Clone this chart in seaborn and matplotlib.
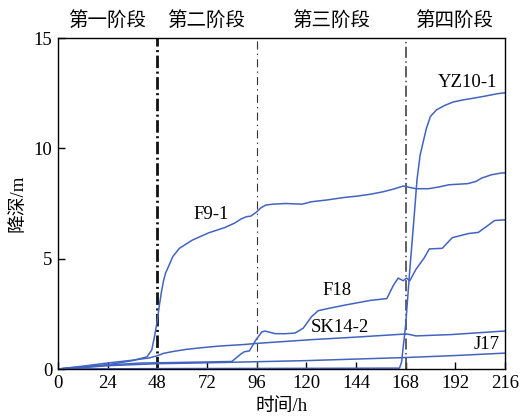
import matplotlib
matplotlib.use("Agg")
import matplotlib.pyplot as plt
import seaborn as sns
import pandas as pd

# ---- data ----
t_f91 = [0, 12, 24, 36, 43, 45.3, 46.9, 48, 49, 50, 51, 52, 53.2, 55.5, 58.7, 64.9, 72.8, 80.6,
         85.3, 88.5, 91, 93.2, 96, 98, 100.4, 104, 110, 118, 122.5, 130, 138, 145, 151, 157, 162,
         166.8, 168.4, 173, 179, 184, 189, 198, 202, 204.7, 209.4, 214, 216]
v_f91 = [0, 0.1, 0.19, 0.38, 0.55, 0.86, 1.6, 2.2, 2.9, 3.5, 4.0, 4.35, 4.6, 5.1, 5.47, 5.84, 6.17, 6.41,
         6.61, 6.8, 6.9, 6.93, 7.12, 7.3, 7.43, 7.47, 7.5, 7.47, 7.58, 7.66, 7.77, 7.84, 7.92, 8.03, 8.15,
         8.29, 8.26, 8.17, 8.17, 8.25, 8.35, 8.4, 8.5, 8.65, 8.8, 8.88, 8.89]

t_f18 = [0, 12, 24, 40, 60, 84, 88, 90, 92.5, 95.7, 98.5, 100, 105, 110, 114.6, 118.5, 122.5, 125.7,
         130.4, 138.3, 151, 158.9, 162, 164.4, 166.8, 168.4, 170, 173, 177, 179.4, 185.7, 190.5,
         198.4, 203.1, 207.8, 211, 216]
v_f18 = [0, 0.08, 0.18, 0.27, 0.3, 0.34, 0.65, 0.78, 0.82, 1.33, 1.68, 1.72, 1.6, 1.6, 1.63, 1.85, 2.37, 2.64,
         2.74, 2.89, 3.11, 3.19, 3.78, 4.12, 4.0, 4.12, 4.0, 4.52, 5.04, 5.44, 5.47, 5.95,
         6.14, 6.19, 6.51, 6.73, 6.76]

t_sk = [0, 12, 24, 36, 44, 48, 51, 56, 62, 70, 78, 90, 96, 110, 122.5, 145, 166.8, 169, 173, 190, 214, 216]
v_sk = [0, 0.13, 0.27, 0.4, 0.5, 0.6, 0.71, 0.8, 0.89, 0.97, 1.04, 1.11, 1.16, 1.25, 1.33, 1.45, 1.58, 1.58,
        1.5, 1.56, 1.71, 1.72]

t_j17 = [0, 12, 24, 48, 72, 96, 120, 144, 168, 192, 216]
v_j17 = [0, 0.06, 0.15, 0.24, 0.28, 0.33, 0.38, 0.45, 0.52, 0.61, 0.72]

t_yz = [0, 60, 120, 165, 166, 168, 170, 172, 173.5, 175, 176.5, 178, 180, 183, 187, 191, 196, 200, 206, 212, 216]
v_yz = [0, 0.02, 0.03, 0.04, 0.3, 2.0, 4.5, 6.8, 8.6, 9.7, 10.3, 10.9, 11.45, 11.75, 11.95, 12.1, 12.2,
        12.26, 12.36, 12.47, 12.52]

series_names = ["F9-1", "F18", "SK14-2", "J17", "YZ10-1"]
label_pos_t = [74, 135, 136, 207, 198]
label_pos_v = [7.0, 3.55, 1.9, 1.12, 13.0]

stage_names = ["第一阶段", "第二阶段", "第三阶段", "第四阶段"]
stage_centers = [23.7, 71.8, 132, 191.2]
stage_bounds = [48, 96, 168]

x_ticks = [0, 24, 48, 72, 96, 120, 144, 168, 192, 216]
y_ticks = [0, 5, 10, 15]

# ---- build frame ----
frames = []
for name, t, v in zip(series_names,
                      [t_f91, t_f18, t_sk, t_j17, t_yz],
                      [v_f91, v_f18, v_sk, v_j17, v_yz]):
    frames.append(pd.DataFrame({"t": t, "v": v, "s": name}))
df = pd.concat(frames, ignore_index=True)

sns.set_theme(style="white")
plt.rcParams["font.family"] = ["Liberation Serif", "Noto Sans CJK SC", "DejaVu Sans"]
plt.rcParams["lines.scale_dashes"] = False

fig = plt.figure(figsize=(5.30, 4.17), dpi=100)
ax = fig.add_axes([58 / 530, 48 / 417, 447 / 530, 331 / 417])

blue = "#4263c2"
sns.lineplot(data=df, x="t", y="v", hue="s", palette=[blue] * 5, estimator=None, sort=False,
             linewidth=1.1, legend=False, ax=ax)

# stage boundaries
ax.axvline(stage_bounds[0], color="#111111", lw=2.0, linestyle=(0, (9, 2.5, 1.5, 2.5)), zorder=1)
ax.axvline(stage_bounds[1], color="#333333", lw=0.8, linestyle=(0, (5.8, 3, 1, 3)), zorder=1)
ax.axvline(stage_bounds[2], color="#444444", lw=1.2, linestyle=(0, (8, 2.5, 1, 2.5)), zorder=1)

ax.set_xlim(0, 216)
ax.set_ylim(0, 15)
ax.set_xticks(x_ticks)
ax.set_yticks(y_ticks)
ax.tick_params(axis="both", direction="in", length=5, width=1, colors="black",
               labelsize=13.5, pad=4, bottom=True, left=True)
for sp in ax.spines.values():
    sp.set_color("black")
    sp.set_linewidth(1.0)

ax.set_xlabel("时间/h", fontsize=13.5, labelpad=5, color="black")
ax.set_ylabel("降深/m", fontsize=13.5, labelpad=5, color="black")

for name, tx, vy in zip(series_names, label_pos_t, label_pos_v):
    ax.text(tx, vy, name, fontsize=13.5, ha="center", va="center", color="black")

for name, c in zip(stage_names, stage_centers):
    ax.text(c, 1.052, name, transform=ax.get_xaxis_transform(), fontsize=14,
            ha="center", va="center", color="black",
            family=["Noto Sans CJK SC", "DejaVu Sans"])

fig.savefig("out.png", dpi=100)
